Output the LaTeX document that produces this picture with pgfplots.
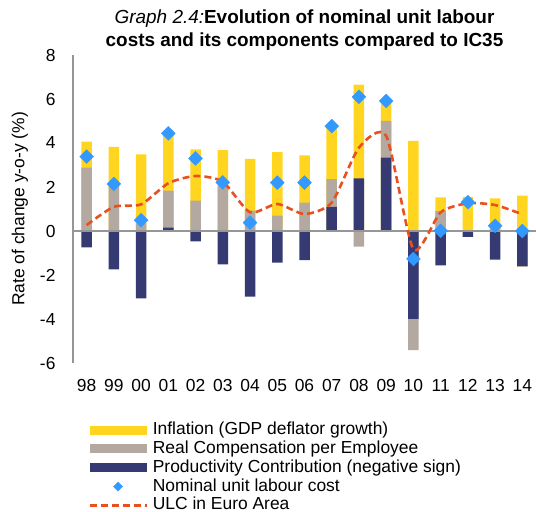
\documentclass[border=0pt]{standalone}
\usepackage{pgfplots}
\pgfplotsset{compat=1.18}
\usepackage{fontspec}
\setmainfont{Liberation Sans}
\definecolor{infl}{RGB}{255,213,32}
\definecolor{rcomp}{RGB}{179,169,160}
\definecolor{prod}{RGB}{53,59,114}
\definecolor{ulc}{RGB}{51,153,255}
\definecolor{ea}{RGB}{232,80,30}
\definecolor{axgray}{RGB}{150,150,150}
\pgfplotsset{
  mybar/.style={ybar, bar width=10.5bp, bar shift=0pt, draw=none},
  barlegend/.style={legend image code/.code={\fill[##1] (0bp,-4.5bp) rectangle (57bp,4.5bp);}},
  marklegend/.style={legend image code/.code={\draw[##1, mark size=3.2bp] plot coordinates {(28.5bp,0bp)};}},
  linelegend/.style={legend image code/.code={\draw[##1] (0bp,0bp) -- (57bp,0bp);}},
}
\begin{document}
\begin{tikzpicture}
\begin{axis}[name=ax, scale only axis, width=463bp, height=308bp,
  xmin=-0.5, xmax=16.5, ymin=-6, ymax=8, ytick={-6,-4,...,8},
  xtick={0,...,16},
  xticklabels={98,99,00,01,02,03,04,05,06,07,08,09,10,11,12,13,14},
  axis x line*=bottom, axis y line*=left,
  x axis line style={draw=none},
  y axis line style={axgray, line width=1.2bp, -},
  major tick length=0pt,
  ticklabel style={font=\fontsize{17.5}{20}\selectfont},
  /pgf/number format/assume math mode=true,
  xticklabel style={yshift=-13bp},
  yticklabel style={xshift=-14bp},
  ylabel={Rate of change y-o-y (\%)},
  ylabel style={font=\fontsize{17.5}{20}\selectfont, at={(axis description cs:-0.1145,0.5)}, anchor=center},
  title={\textit{Graph 2.4:}\textbf{Evolution of nominal unit labour}\\\textbf{costs and its components compared to IC35}},
  title style={font=\fontsize{19}{23}\selectfont, align=center, at={(axis description cs:0.5,1)}, anchor=south, yshift=-2bp, inner sep=0pt},
  legend style={at={(axis description cs:0.026,-0.185)}, anchor=north west, draw=none, fill=none,
    font=\fontsize{17.5}{20}\selectfont, legend cell align=left, row sep=2.8bp,
    nodes={inner sep=0pt, text height=12.5bp, text depth=3.5bp},
    /tikz/every odd column/.append style={column sep=5bp}},
]
% positive stack: yellow = total positive top
\addplot[mybar, fill=infl, barlegend] coordinates {
(0,4.06) (1,3.82) (2,3.48) (3,4.44) (4,3.71) (5,3.68) (6,3.28) (7,3.59) (8,3.44)
(9,4.77) (10,6.65) (11,5.90) (12,4.10) (13,1.53) (14,1.55) (15,1.48) (16,1.61)};
\addlegendentry{Inflation (GDP deflator growth)}
% grey: cumulative top of productivity + real compensation (positive part)
\addplot[mybar, fill=rcomp, barlegend] coordinates {
(0,2.88) (1,2.05) (2,0.35) (3,1.83) (4,1.38) (5,2.05) (6,0.93) (7,0.70) (8,1.29)
(9,2.36) (11,5.01) (13,0.90) (15,0.15)};
\addlegendentry{Real Compensation per Employee}
% navy positive part
\addplot[mybar, fill=prod, barlegend] coordinates {
(3,0.15) (9,1.10) (10,2.39) (11,3.33)};
\addlegendentry{Productivity Contribution (negative sign)}
% negative stack: grey = cumulative bottom
\addplot[mybar, fill=rcomp, forget plot] coordinates {
(10,-0.71) (12,-5.41) (16,-1.63)};
% navy negative part
\addplot[mybar, fill=prod, forget plot] coordinates {
(0,-0.74) (1,-1.74) (2,-3.06) (4,-0.47) (5,-1.52) (6,-2.98) (7,-1.44) (8,-1.32)
(12,-3.99) (13,-1.56) (14,-0.27) (15,-1.30) (16,-1.59)};
% zero line
\addplot[axgray, line width=1.5bp, forget plot] coordinates {(-0.5,0) (16.5,0)};
% ULC in Euro Area
\addplot[ea, line width=2.6bp, dash pattern=on 7bp off 4bp, smooth, tension=0.4, forget plot] coordinates {
(0,0.27) (1,1.10) (2,1.21) (3,2.17) (4,2.50) (5,2.24) (6,0.85) (7,1.23) (8,0.77)
(9,1.29) (10,3.79) (11,4.32) (12,-0.83) (13,0.85) (14,1.26) (15,1.18) (16,0.76)};
% Nominal ULC
\addplot[only marks, mark=square*, mark size=4.9bp, mark options={rotate=45, fill=ulc, draw=ulc}, marklegend] coordinates {
(0,3.38) (1,2.14) (2,0.49) (3,4.44) (4,3.30) (5,2.21) (6,0.38) (7,2.20) (8,2.20)
(9,4.77) (10,6.10) (11,5.91) (12,-1.27) (13,0.01) (14,1.31) (15,0.24) (16,0.00)};
\addlegendentry{Nominal unit labour cost}
\addlegendimage{ea, line width=2.6bp, dash pattern=on 7bp off 4bp, linelegend}
\addlegendentry{ULC in Euro Area}
\end{axis}
\pgfresetboundingbox
\path ([xshift=-73bp,yshift=-149bp]ax.south west) rectangle ([yshift=55bp]ax.north east);
\end{tikzpicture}
\end{document}
